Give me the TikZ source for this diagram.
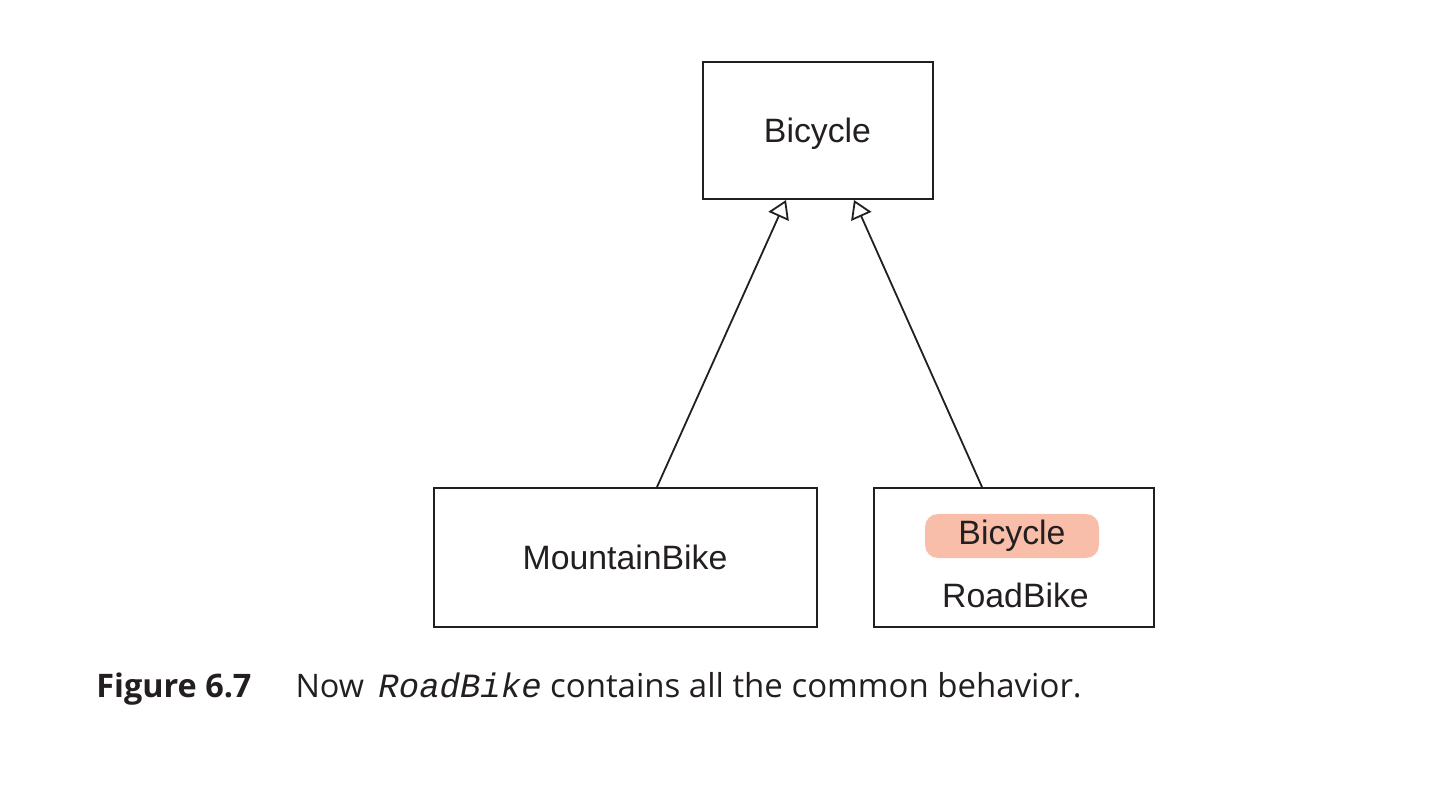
\documentclass[tikz,border=0pt]{standalone}
\usepackage{fontspec}
\setmainfont{Liberation Sans}
\newfontfamily\captionfont{Open Sans}
\newfontfamily\codefont{Liberation Mono}
\usepackage{xcolor}
\usetikzlibrary{arrows.meta,positioning}
\definecolor{pillfill}{RGB}{249,190,170}
\definecolor{ink}{RGB}{35,31,32}

\begin{document}
\begin{tikzpicture}[x=0.5pt, y=-0.5pt,
    every node/.style={text=ink, font=\fontsize{16.9}{20}\selectfont},
    classbox/.style={draw=ink, line width=1pt, text height=12pt, text depth=0pt},
    inherit/.style={draw=ink, line width=0.9pt, -{Triangle[open, length=9pt, width=11pt]}}]
    \useasboundingbox (0,0) rectangle (1442,786);

    % Boxes for the superclass and the two subclasses
    \node[classbox, minimum width=115pt, minimum height=68.5pt] (bicycle) at (817.5,130.5) {Bicycle};
    \node[classbox, minimum width=191.5pt, minimum height=69.5pt] (mountain) at (625,557.5) {MountainBike};
    \node[classbox, minimum width=140pt, minimum height=69.5pt] (road) at (1013.5,557.5) {};

    % Inherited part and name inside RoadBike
    \node[fill=pillfill, rounded corners=6.5pt, minimum width=87pt, minimum height=22pt, inner sep=0pt] (inherited) at (1012,536) {Bicycle};
    \node[text height=12pt, text depth=0pt] (roadname) at (1015.5,595) {RoadBike};

    % Generalisation arrows up to Bicycle
    \draw[inherit] ([xshift=16pt]mountain.north) -- ([xshift=-15.75pt]bicycle.south);
    \draw[inherit] ([xshift=-15.75pt]road.north) -- ([xshift=18.25pt]bicycle.south);

    % Caption
    \node[anchor=base west, inner sep=0pt, font=\captionfont\fontsize{16.2}{19}\selectfont] (caption) at (96,697)
        {{\bfseries Figure 6.7}\hspace{22pt}Now\hspace{3pt} {\codefont\itshape\fontsize{17}{18}\selectfont RoadBike} {\fontsize{16.5}{19}\selectfont contains all the common behavior.}};
\end{tikzpicture}
\end{document}
